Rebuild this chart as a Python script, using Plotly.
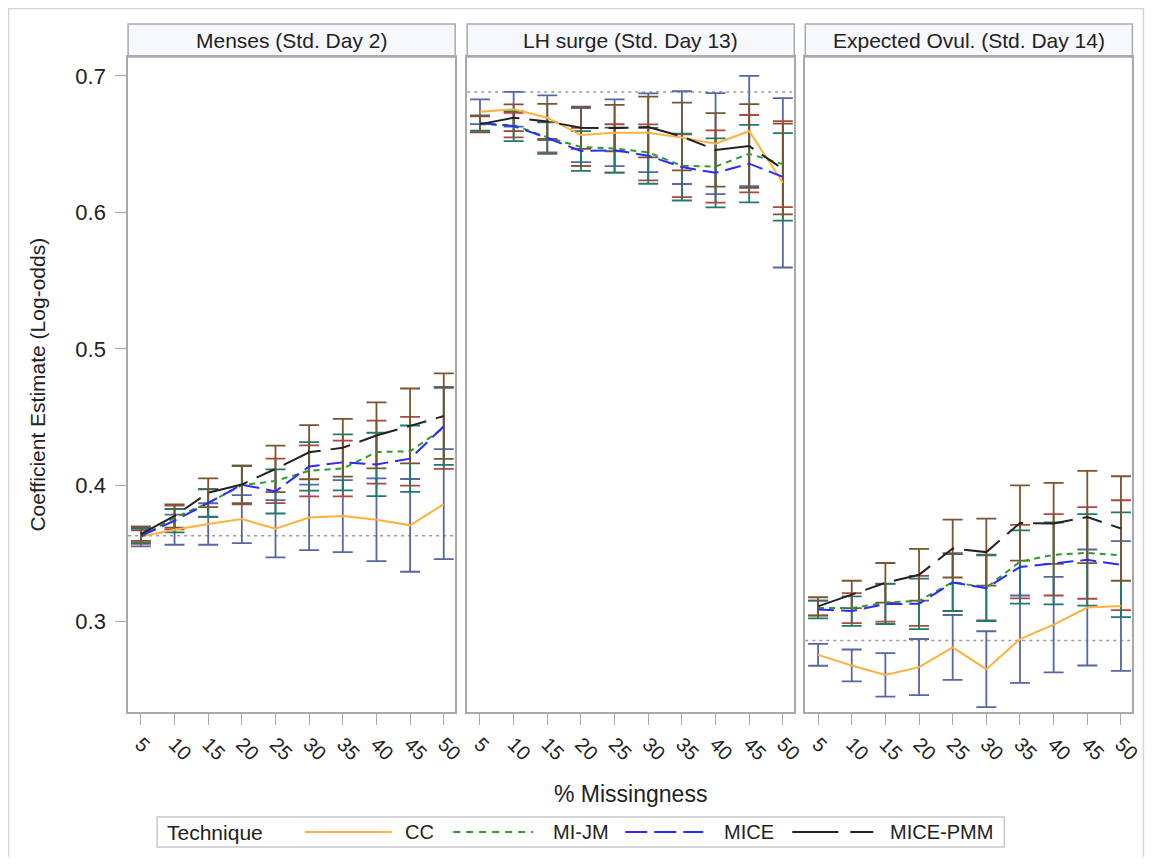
import plotly.graph_objects as go

# Page is 1154x867; the browser adds an 8px body margin. Positions below are
# target screen pixels; XS compensates a small horizontal shrink seen on render.
PAGE_W, PAGE_H = 1154, 867
OFF = 8
W, H = PAGE_W - OFF, PAGE_H - 2 * OFF - 2
XS = 1 / 0.991

pct = [5, 10, 15, 20, 25, 30, 35, 40, 45, 50]
panels = ["Menses (Std. Day 2)", "LH surge (Std. Day 13)", "Expected Ovul. (Std. Day 14)"]
methods = ["CC", "MI-JM", "MICE", "MICE-PMM"]
ref_values = [0.363, 0.6883, 0.2862]
y_ticks = [0.3, 0.4, 0.5, 0.6, 0.7]
y_tick_labels = ["0.3", "0.4", "0.5", "0.6", "0.7"]

# Panel 1: Menses
cc1_est = [0.3625, 0.3674, 0.3716, 0.3752, 0.3681, 0.3764, 0.3774, 0.3747, 0.3706, 0.3862]
cc1_hw = [0.0073, 0.0110, 0.0152, 0.0176, 0.0210, 0.0240, 0.0264, 0.0303, 0.0340, 0.0403]
jm1_est = [0.3620, 0.3763, 0.3870, 0.4000, 0.4032, 0.4106, 0.4123, 0.4243, 0.4249, 0.4420]
jm1_hw = [0.0050, 0.0087, 0.0103, 0.0140, 0.0163, 0.0187, 0.0204, 0.0231, 0.0252, 0.0300]
mice1_est = [0.3630, 0.3740, 0.3870, 0.4005, 0.3955, 0.4138, 0.4168, 0.4153, 0.4195, 0.4432]
mice1_hw = [0.0050, 0.0086, 0.0100, 0.0138, 0.0162, 0.0178, 0.0205, 0.0232, 0.0243, 0.0282]
pmm1_est = [0.3642, 0.3775, 0.3945, 0.4005, 0.4120, 0.4242, 0.4275, 0.4365, 0.4435, 0.4507]
pmm1_hw = [0.0050, 0.0085, 0.0105, 0.0138, 0.0171, 0.0198, 0.0212, 0.0242, 0.0274, 0.0313]

# Panel 2: LH surge
cc2_est = [0.6738, 0.6756, 0.6694, 0.6567, 0.6584, 0.6584, 0.6548, 0.6504, 0.6596, 0.6217]
cc2_hw = [0.0091, 0.0127, 0.0164, 0.0198, 0.0245, 0.0289, 0.0340, 0.0370, 0.0404, 0.0621]
jm2_est = [0.6646, 0.6640, 0.6550, 0.6480, 0.6469, 0.6440, 0.6342, 0.6336, 0.6430, 0.6354]
jm2_hw = [0.0058, 0.0090, 0.0110, 0.0140, 0.0177, 0.0205, 0.0230, 0.0265, 0.0284, 0.0315]
mice2_est = [0.6655, 0.6633, 0.6545, 0.6450, 0.6456, 0.6415, 0.6332, 0.6290, 0.6357, 0.6260]
mice2_hw = [0.0056, 0.0110, 0.0116, 0.0145, 0.0165, 0.0205, 0.0245, 0.0253, 0.0284, 0.0321]
pmm2_est = [0.6647, 0.6694, 0.6667, 0.6620, 0.6618, 0.6626, 0.6556, 0.6458, 0.6486, 0.6318]
pmm2_hw = [0.0060, 0.0098, 0.0128, 0.0155, 0.0170, 0.0222, 0.0248, 0.0269, 0.0307, 0.0333]

# Panel 3: Expected ovulation
cc3_est = [0.2757, 0.2679, 0.2610, 0.2667, 0.2811, 0.2652, 0.2872, 0.2978, 0.3104, 0.3115]
cc3_hw = [0.0080, 0.0117, 0.0159, 0.0206, 0.0238, 0.0278, 0.0320, 0.0350, 0.0425, 0.0475]
jm3_est = [0.3100, 0.3100, 0.3140, 0.3153, 0.3290, 0.3250, 0.3440, 0.3490, 0.3504, 0.3487]
jm3_hw = [0.0054, 0.0110, 0.0139, 0.0183, 0.0213, 0.0241, 0.0269, 0.0298, 0.0336, 0.0403]
mice3_est = [0.3089, 0.3078, 0.3130, 0.3131, 0.3287, 0.3246, 0.3401, 0.3427, 0.3453, 0.3417]
mice3_hw = [0.0065, 0.0108, 0.0147, 0.0185, 0.0208, 0.0241, 0.0269, 0.0300, 0.0336, 0.0384]
pmm3_est = [0.3112, 0.3200, 0.3285, 0.3344, 0.3536, 0.3510, 0.3723, 0.3720, 0.3767, 0.3683]
pmm3_hw = [0.0067, 0.0100, 0.0145, 0.0190, 0.0212, 0.0245, 0.0276, 0.0297, 0.0338, 0.0383]

estimates = [
    [cc1_est, jm1_est, mice1_est, pmm1_est],
    [cc2_est, jm2_est, mice2_est, pmm2_est],
    [cc3_est, jm3_est, mice3_est, pmm3_est],
]
halfwidths = [
    [cc1_hw, jm1_hw, mice1_hw, pmm1_hw],
    [cc2_hw, jm2_hw, mice2_hw, pmm2_hw],
    [cc3_hw, jm3_hw, mice3_hw, pmm3_hw],
]

# styles
line_colors = ["#FFB13B", "#2E9A2E", "#2B2BFF", "#222222"]
line_dash = ["solid", "6px,5px", "16px,7px", "40px,10px,20px,10px"]
legend_dash = ["solid", "7px,6px", "22px,7px", "46px,12px,23px,12px"]
err_colors = ["#5666A6", "#B0473D", "#1E7B6B", "#7A5430"]
FONT = "Liberation Sans, Arial, sans-serif"
TXT = "#222222"
BORDER = "#A9A9A9"

px_x = [(128, 455), (467, 794), (805, 1132)]
plot_top, plot_bot = 57, 712
head_top = 24


def fx(px):
    return min((px * XS - OFF) / W, 0.9995)


def fy(py):
    return 1 - (py - OFF) / H


fig = go.Figure()

axis_names = [("x", "y"), ("x2", "y2"), ("x3", "y3")]

for p in range(3):
    xa, ya = axis_names[p]
    for m in range(4):
        fig.add_trace(go.Scatter(
            x=pct, y=estimates[p][m], mode="markers",
            marker=dict(size=1, opacity=0),
            error_y=dict(type="data", array=halfwidths[p][m], symmetric=True,
                         color=err_colors[m], thickness=1.8, width=10),
            xaxis=xa, yaxis=ya, showlegend=False, hoverinfo="skip"))
    for m in range(4):
        fig.add_trace(go.Scatter(
            x=pct, y=estimates[p][m], mode="lines",
            line=dict(color=line_colors[m], dash=line_dash[m], width=2),
            xaxis=xa, yaxis=ya, name=methods[m], showlegend=False))

layout_axes = {}
for p in range(3):
    xk = "xaxis" if p == 0 else f"xaxis{p+1}"
    yk = "yaxis" if p == 0 else f"yaxis{p+1}"
    x0, x1 = px_x[p]
    layout_axes[xk] = dict(
        domain=[fx(x0), fx(x1)], range=[3.1, 51.7], anchor="y" if p == 0 else f"y{p+1}",
        tickvals=pct, ticktext=[str(v) for v in pct], tickangle=45,
        ticks="outside", ticklen=11, tickcolor=BORDER, tickwidth=1,
        showline=True, mirror=True, linecolor=BORDER, linewidth=1.5,
        showgrid=False, zeroline=False,
        tickfont=dict(family=FONT, size=20, color=TXT))
    ydict = dict(
        domain=[fy(plot_bot), fy(plot_top)], range=[0.2338, 0.7139],
        anchor="x" if p == 0 else f"x{p+1}",
        showline=True, mirror=True, linecolor=BORDER, linewidth=1.5,
        showgrid=False, zeroline=False)
    if p == 0:
        ydict.update(tickvals=y_ticks, ticktext=y_tick_labels, ticks="outside",
                     ticklen=11, tickcolor=BORDER, tickwidth=1, ticklabelstandoff=5,
                     tickfont=dict(family=FONT, size=22, color=TXT))
    else:
        ydict.update(matches="y", showticklabels=False, ticks="")
    layout_axes[yk] = ydict

shapes = []
annotations = []

# outer frame
shapes.append(dict(type="rect", xref="paper", yref="paper",
                   x0=fx(8.5), x1=fx(1148), y0=fy(860), y1=fy(8.5),
                   line=dict(color="#D4D4D4", width=1.5), fillcolor="rgba(0,0,0,0)", layer="below"))

for p in range(3):
    x0, x1 = px_x[p]
    shapes.append(dict(type="rect", xref="paper", yref="paper",
                       x0=fx(x0), x1=fx(x1), y0=fy(plot_top), y1=fy(head_top),
                       line=dict(color=BORDER, width=1.5), fillcolor="#F7F8FE", layer="below"))
    annotations.append(dict(text=panels[p], xref="paper", yref="paper",
                            x=fx((x0 + x1) / 2), y=fy((head_top + plot_top) / 2),
                            xanchor="center", yanchor="middle", showarrow=False,
                            font=dict(family=FONT, size=21, color=TXT)))
    xr = "x domain" if p == 0 else f"x{p+1} domain"
    yr = "y" if p == 0 else f"y{p+1}"
    shapes.append(dict(type="line", xref=xr, yref=yr, x0=0, x1=1,
                       y0=ref_values[p], y1=ref_values[p],
                       line=dict(color="#9A9A9A", width=1.5, dash="3px,4px"), layer="below"))

annotations.append(dict(text="Coefficient Estimate (Log-odds)", xref="paper", yref="paper",
                        x=fx(37), y=fy((plot_top + plot_bot) / 2), textangle=-90,
                        xanchor="center", yanchor="middle", showarrow=False,
                        font=dict(family=FONT, size=21, color=TXT)))
annotations.append(dict(text="% Missingness", xref="paper", yref="paper",
                        x=fx(630), y=fy(794), xanchor="center", yanchor="middle", showarrow=False,
                        font=dict(family=FONT, size=23, color=TXT)))

# legend (manual, to reproduce the long line samples)
ly = 832
shapes.append(dict(type="rect", xref="paper", yref="paper",
                   x0=fx(157), x1=fx(1004), y0=fy(847), y1=fy(817),
                   line=dict(color="#C8C8C8", width=1.5), fillcolor="white"))
annotations.append(dict(text="Technique", xref="paper", yref="paper", x=fx(165), y=fy(ly),
                        xanchor="left", yanchor="middle", showarrow=False,
                        font=dict(family=FONT, size=21, color=TXT)))
sample_pos = [(305, 392, 403), (453, 533, 551), (625, 703, 722), (792, 873, 888)]
for m in range(4):
    s0, s1, tx = sample_pos[m]
    shapes.append(dict(type="line", xref="paper", yref="paper",
                       x0=fx(s0), x1=fx(s1), y0=fy(ly), y1=fy(ly),
                       line=dict(color=line_colors[m], width=2, dash=legend_dash[m])))
    annotations.append(dict(text=methods[m], xref="paper", yref="paper", x=fx(tx), y=fy(ly),
                            xanchor="left", yanchor="middle", showarrow=False,
                            font=dict(family=FONT, size=20, color=TXT)))

fig.update_layout(
    width=W, height=H,
    margin=dict(l=0, r=0, t=0, b=0),
    paper_bgcolor="white", plot_bgcolor="white",
    showlegend=False,
    shapes=shapes, annotations=annotations,
    font=dict(family=FONT, color=TXT),
    **layout_axes)

fig.write_html("out.html")
